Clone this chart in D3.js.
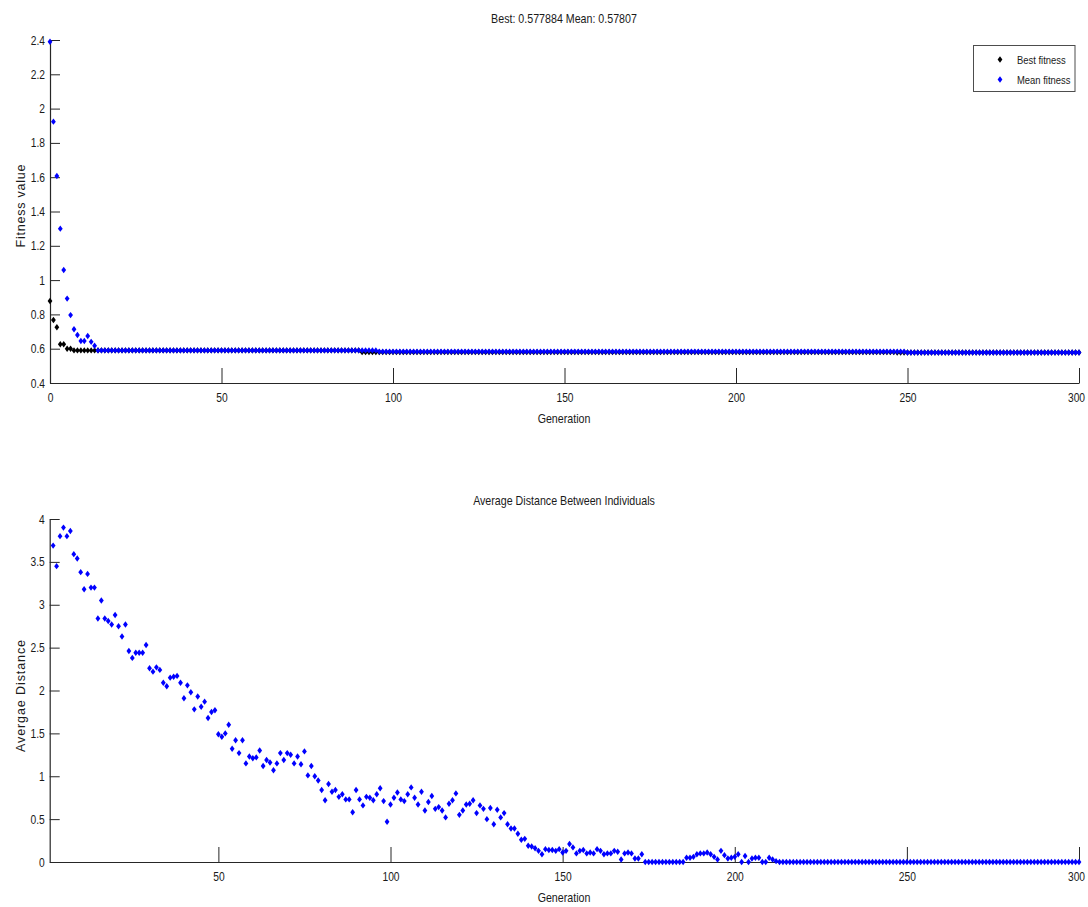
<!DOCTYPE html>
<html>
<head>
<meta charset="utf-8">
<script src="https://cdn.jsdelivr.net/npm/d3@7"></script>
<style>
  html, body { margin: 0; padding: 0; background: #fff; }
  svg { display: block; }
  text { font-family: "Liberation Sans", Arial, sans-serif; fill: #1a1a1a; }
</style>
</head>
<body>
<svg id="chart" width="1088" height="907"></svg>
<script>
// ---- Fitness per generation (0..300), stored as [value, repeat] runs ----
const bestFitnessRuns = [
  [0.878, 1], [0.767, 1], [0.725, 1], [0.626, 2], [0.600, 2],
  [0.590, 84], [0.580, 156], [0.577884, 54]
];
const meanFitnessRuns = [
  [2.390, 1], [1.924, 1], [1.607, 1], [1.300, 1], [1.059, 1], [0.892, 1],
  [0.796, 1], [0.713, 1], [0.680, 1], [0.645, 1], [0.645, 1], [0.674, 1],
  [0.640, 1], [0.617, 1], [0.590, 82], [0.583, 154], [0.57807, 51]
];
const fitnessTitle = "Best: 0.577884 Mean: 0.57807";
const fitnessLegend = ["Best fitness", "Mean fitness"];
const fitnessXTicks = [0, 50, 100, 150, 200, 250, 300];
const fitnessYTicks = [0.4, 0.6, 0.8, 1, 1.2, 1.4, 1.6, 1.8, 2, 2.2, 2.4];

// ---- Average distance between individuals, generations 2..300 ----
const distanceStartGen = 2;
const avgDistance = [
  3.69, 3.45, 3.80, 3.90, 3.80, 3.86, 3.59, 3.54, 3.38, 3.18,
  3.36, 3.20, 3.20, 2.84, 3.05, 2.84, 2.81, 2.77, 2.88, 2.75,
  2.63, 2.77, 2.46, 2.38, 2.44, 2.44, 2.44, 2.53, 2.26, 2.22,
  2.27, 2.24, 2.09, 2.05, 2.15, 2.16, 2.17, 2.09, 1.91, 2.06,
  1.98, 1.78, 1.93, 1.81, 1.87, 1.68, 1.75, 1.77, 1.49, 1.46,
  1.50, 1.60, 1.32, 1.42, 1.27, 1.42, 1.15, 1.23, 1.21, 1.22,
  1.30, 1.12, 1.19, 1.16, 1.07, 1.15, 1.27, 1.19, 1.27, 1.25,
  1.15, 1.23, 1.14, 1.29, 1.01, 1.12, 1.00, 0.95, 0.84, 0.72,
  0.91, 0.82, 0.84, 0.76, 0.79, 0.73, 0.73, 0.58, 0.84, 0.73,
  0.66, 0.76, 0.75, 0.72, 0.79, 0.86, 0.71, 0.47, 0.67, 0.75,
  0.81, 0.73, 0.71, 0.79, 0.87, 0.75, 0.67, 0.82, 0.60, 0.70,
  0.77, 0.62, 0.64, 0.60, 0.52, 0.68, 0.72, 0.80, 0.55, 0.60,
  0.67, 0.68, 0.72, 0.57, 0.66, 0.62, 0.50, 0.63, 0.44, 0.61,
  0.52, 0.57, 0.44, 0.39, 0.39, 0.33, 0.26, 0.27, 0.19, 0.18,
  0.16, 0.13, 0.09, 0.15, 0.14, 0.14, 0.13, 0.15, 0.11, 0.13,
  0.21, 0.17, 0.10, 0.13, 0.14, 0.10, 0.11, 0.10, 0.15, 0.13,
  0.09, 0.10, 0.10, 0.13, 0.12, 0.03, 0.10, 0.11, 0.10, 0.04,
  0.04, 0.09, 0, 0, 0, 0, 0, 0, 0, 0,
  0, 0, 0, 0, 0.05, 0.05, 0.06, 0.09, 0.10, 0.10,
  0.11, 0.09, 0.06, 0.03, 0.13, 0.08, 0.04, 0.05, 0.06, 0.09,
  0, 0.07, 0, 0.04, 0.05, 0.05, 0, 0, 0.05, 0.03,
  0.01, 0, 0, 0, 0, 0, 0, 0, 0, 0,
  0, 0, 0, 0, 0, 0, 0, 0, 0, 0,
  0, 0, 0, 0, 0, 0, 0, 0, 0, 0,
  0, 0, 0, 0, 0, 0, 0, 0, 0, 0,
  0, 0, 0, 0, 0, 0, 0, 0, 0, 0,
  0, 0, 0, 0, 0, 0, 0, 0, 0, 0,
  0, 0, 0, 0, 0, 0, 0, 0, 0, 0,
  0, 0, 0, 0, 0, 0, 0, 0, 0, 0,
  0, 0, 0, 0, 0, 0, 0, 0, 0
];
const distanceTitle = "Average Distance Between Individuals";
const distanceXTicks = [50, 100, 150, 200, 250, 300];
const distanceYTicks = [0, 0.5, 1, 1.5, 2, 2.5, 3, 3.5, 4];

const xLabel = "Generation";

// expand [value, count] runs into a per-generation series
function expandRuns(runs) {
  const out = [];
  runs.forEach(([v, n]) => { for (let i = 0; i < n; i++) out.push(v); });
  return out;
}
const bestFitness = expandRuns(bestFitnessRuns).map((v, i) => ({ g: i, v }));
const meanFitness = expandRuns(meanFitnessRuns).map((v, i) => ({ g: i, v }));
const distance = avgDistance.map((v, i) => ({ g: distanceStartGen + i, v }));

const svg = d3.select("#chart");
const axisColor = "#262626";

// small diamond marker
const marker = "M0,-3.2L2.4,0L0,3.2L-2.4,0Z";

function fmt(d) { return d3.format("~g")(+d.toFixed(2)); }

function drawAxes(g, x, y, xTicks, yTicks) {
  const xAxis = d3.axisBottom(x).tickValues(xTicks).tickSizeInner(-15)
    .tickSizeOuter(0).tickPadding(10).tickFormat(fmt);
  const yAxis = d3.axisLeft(y).tickValues(yTicks).tickSizeInner(-10)
    .tickSizeOuter(0).tickPadding(5).tickFormat(fmt);
  const gx = g.append("g").attr("transform", `translate(0,${y.range()[0]})`).call(xAxis);
  const gy = g.append("g").attr("transform", `translate(${x.range()[0]},0)`).call(yAxis);
  [gx, gy].forEach(a => {
    a.select(".domain").attr("stroke", axisColor).attr("stroke-width", 1.2);
    a.selectAll(".tick line").attr("stroke", axisColor);
    a.selectAll(".tick text").attr("font-size", 12.5)
      .attr("font-family", '"Liberation Sans", Arial, sans-serif')
      .attr("fill", "#1a1a1a");
  });
  // keep the last x label inside the page edge
  gx.selectAll(".tick text").filter(d => d === xTicks[xTicks.length - 1]).attr("dx", -3);
}

function drawPoints(g, data, x, y, color) {
  g.append("g").selectAll("path").data(data).join("path")
    .attr("d", marker)
    .attr("transform", d => `translate(${x(d.g)},${y(d.v)})`)
    .attr("fill", color);
}

// ---------- upper panel: fitness ----------
const xTop = d3.scaleLinear().domain([0, 300]).range([50, 1079]);
const yTop = d3.scaleLinear().domain([0.4, 2.4]).range([383, 40]);
const fitnessPanel = svg.append("g");
drawAxes(fitnessPanel, xTop, yTop, fitnessXTicks, fitnessYTicks);
drawPoints(fitnessPanel, bestFitness, xTop, yTop, "#000000");
drawPoints(fitnessPanel, meanFitness, xTop, yTop, "#0000ff");

fitnessPanel.append("text").attr("x", 564).attr("y", 23).attr("text-anchor", "middle")
  .attr("font-size", 13).text(fitnessTitle);
fitnessPanel.append("text").attr("x", 564).attr("y", 423).attr("text-anchor", "middle")
  .attr("font-size", 13).text(xLabel);
fitnessPanel.append("text").attr("class", "ylab").attr("transform", "translate(25,206) rotate(-90)")
  .attr("text-anchor", "middle").attr("font-size", 12.5)
  .attr("textLength", 83).attr("lengthAdjust", "spacing").text("Fitness value");

// legend
const leg = fitnessPanel.append("g");
leg.append("rect").attr("x", 973.5).attr("y", 45.5).attr("width", 101.5).attr("height", 46)
  .attr("fill", "#fff").attr("stroke", "#4d4d4d").attr("stroke-width", 1);
[["#000000", 59.5], ["#0000ff", 79.5]].forEach(([c, yy], i) => {
  leg.append("path").attr("d", marker).attr("transform", `translate(1000,${yy})`).attr("fill", c);
  leg.append("text").attr("x", 1017).attr("y", yy + 4).attr("font-size", 11.5).text(fitnessLegend[i]);
});

// ---------- lower panel: average distance ----------
const xBot = d3.scaleLinear().domain([1, 300]).range([49.7, 1079]);
const yBot = d3.scaleLinear().domain([0, 4]).range([862, 519]);
const distancePanel = svg.append("g");
drawAxes(distancePanel, xBot, yBot, distanceXTicks, distanceYTicks);
drawPoints(distancePanel, distance, xBot, yBot, "#0000ff");

distancePanel.append("text").attr("x", 564).attr("y", 505).attr("text-anchor", "middle")
  .attr("font-size", 13).text(distanceTitle);
distancePanel.append("text").attr("x", 564).attr("y", 902).attr("text-anchor", "middle")
  .attr("font-size", 13).text(xLabel);
distancePanel.append("text").attr("class", "ylab").attr("transform", "translate(25,696) rotate(-90)")
  .attr("text-anchor", "middle").attr("font-size", 12.5)
  .attr("textLength", 112).attr("lengthAdjust", "spacing").text("Avergae Distance");

// condensed lettering: squeeze each horizontal label to a narrow width
svg.selectAll("text").filter(function () { return !this.classList.contains("ylab"); })
  .each(function () {
    const w = this.getComputedTextLength();
    d3.select(this).attr("textLength", w * 0.82).attr("lengthAdjust", "spacingAndGlyphs");
  });
</script>
</body>
</html>
